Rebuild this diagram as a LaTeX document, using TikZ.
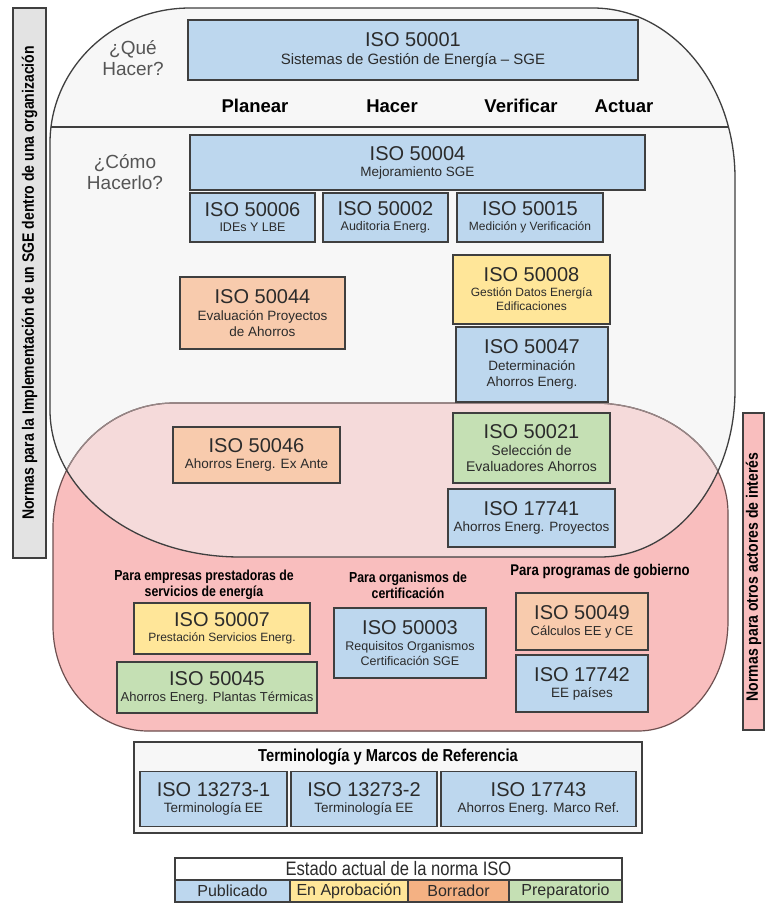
\documentclass[tikz,border=0pt]{standalone}
\usepackage{fontspec}
\setmainfont{Liberation Sans}
\newfontfamily\cond[FakeStretch=0.85]{Liberation Sans}
\definecolor{bluef}{HTML}{BDD7EE}
\definecolor{yelf}{HTML}{FFE699}
\definecolor{oraf}{HTML}{F8CBAD}
\definecolor{orad}{HTML}{F4B183}
\definecolor{grnf}{HTML}{C5E0B4}
\definecolor{bord}{HTML}{3F3F3F}
\definecolor{pinkf}{HTML}{F9BEBE}
\definecolor{pinkl}{HTML}{F5DADA}
\definecolor{whitef}{HTML}{F7F7F7}
\definecolor{grayf}{HTML}{E3E3E3}
\definecolor{txt}{HTML}{2B2B2B}
\newcommand\fs[2]{\fontsize{#1}{#2}\selectfont}
\newcommand\isonode[6]{\node[isob,#2,font=#5] (#1) at (#3) {{\fs{20}{22}#4}\\[1pt]#6};}
\newcommand\wpath{(190,8) -- (593,8) .. controls (671.4,8) and (735,84.1) .. (735,178) -- (735,390) .. controls (735,482.2) and (674.6,557) .. (600,557) -- (240,557) .. controls (135.1,557) and (50,491.2) .. (50,410) -- (50,143) .. controls (50,68.4) and (112.7,8) .. (190,8) -- cycle}
\newcommand\ppath{(174,403) -- (593,403) .. controls (667.6,403) and (728,452.2) .. (728,513) -- (728,621) .. controls (728,681.8) and (687.7,731) .. (638,731) -- (148,731) .. controls (95.5,731) and (53,684) .. (53,626) -- (53,528) .. controls (53,459) and (107,403) .. (174,403) -- cycle}
\tikzset{
  isob/.style={draw=bord, line width=1.4pt, align=center, inner sep=0pt, text=txt},
  headt/.style={align=center, inner sep=0pt, font=\cond\bfseries\fs{14.5}{16}, text=black},
  pdca/.style={inner sep=0pt, font=\bfseries\fs{18.5}{20}, text=black},
  qtext/.style={align=center, inner sep=0pt, font=\fs{19}{21}, text=txt!80},
  legc/.style={draw=bord, line width=1.2pt, inner sep=0pt, minimum height=22pt, font=\fs{16}{18}, text=txt}
}
\begin{document}
\begin{tikzpicture}[x=1pt,y=-1pt]
\useasboundingbox (0,0) rectangle (765,903);
\fill[white] (0,0) rectangle (765,903);
% big shapes
\fill[whitef] \wpath;
\fill[pinkf] \ppath;
\begin{scope}
  \clip \wpath;
  \fill[pinkl] \ppath;
\end{scope}
\draw[line width=1.2pt, draw={rgb,255:red,110;green,80;blue,80}] \ppath;
\begin{scope}
  \clip \wpath;
  \draw[line width=1.2pt, draw={rgb,255:red,150;green,135;blue,135}] \ppath;
  \draw[line width=1.3pt, draw=bord] (40,127) -- (745,127);
\end{scope}
\draw[line width=1.3pt, draw=bord] \wpath;
% side bars
\node[draw=bord, line width=1.3pt, fill=grayf, minimum width=33pt, minimum height=550pt, inner sep=0pt] (lbar) at (29.5,283) {};
\node[rotate=90, font=\cond\bfseries\fs{16.5}{18}, inner sep=0pt] (ltxt) at (lbar.center) {Normas para la Implementación de un SGE dentro de una organización};
\node[draw=bord, line width=1.3pt, fill=pinkf, minimum width=21pt, minimum height=317pt, inner sep=0pt] (rbar) at (753.5,571.5) {};
\node[rotate=90, font=\cond\bfseries\fs{16.5}{18}, inner sep=0pt] (rtxt) at (753.5,577) {Normas para otros actores de interés};
% labels
\node[qtext] (que) at (133,58) {¿Qué\\Hacer?};
\node[qtext] (como) at (125,172) {¿Cómo\\Hacerlo?};
\node[pdca] (plan) at (255,106) {Planear};
\node[pdca] (hacer) at (392,106) {Hacer};
\node[pdca] (verif) at (521,106) {Verificar};
\node[pdca] (actuar) at (624,106) {Actuar};
% boxes
\isonode{n50001}{fill=bluef,minimum width=450pt,minimum height=60pt}{413,50}{ISO 50001}{\fs{15}{17}}{Sistemas de Gestión de Energía – SGE}
\isonode{n50004}{fill=bluef,minimum width=455pt,minimum height=55pt}{417.5,162.5}{ISO 50004}{\fs{13.5}{15}}{Mejoramiento SGE}
\isonode{n50006}{fill=bluef,minimum width=125pt,minimum height=49pt}{252.5,217.5}{ISO 50006}{\fs{12.5}{14}}{IDEs Y LBE}
\isonode{n50002}{fill=bluef,minimum width=125pt,minimum height=49pt}{385.5,217.5}{ISO 50002}{\fs{12.5}{14}}{Auditoria Energ.}
\isonode{n50015}{fill=bluef,minimum width=146pt,minimum height=49pt}{530,217.5}{ISO 50015}{\fs{12}{14}}{Medición y Verificación}
\isonode{n50008}{fill=yelf,minimum width=157pt,minimum height=69pt}{531.5,289.5}{ISO 50008}{\fs{12}{14}}{Gestión Datos Energía\\Edificaciones}
\isonode{n50047}{fill=bluef,minimum width=152pt,minimum height=75pt}{532,364.5}{ISO 50047}{\fs{13.5}{16}}{Determinación\\Ahorros Energ.}
\isonode{n50044}{fill=oraf,minimum width=165pt,minimum height=72pt}{262.5,313}{ISO 50044}{\fs{13.5}{16}}{Evaluación Proyectos\\de Ahorros}
\isonode{n50046}{fill=oraf,minimum width=167pt,minimum height=56pt}{256.5,455}{ISO 50046}{\fs{13.5}{15}}{Ahorros Energ. Ex Ante}
\isonode{n50021}{fill=grnf,minimum width=157pt,minimum height=70pt}{531.5,448}{ISO 50021}{\fs{14}{16}}{Selección de\\Evaluadores Ahorros}
\isonode{n17741}{fill=bluef,minimum width=167pt,minimum height=58pt}{531.5,518}{ISO 17741}{\fs{13.5}{15}}{Ahorros Energ. Proyectos}
% bottom group headers
\node[headt] (h1) at (204,585) {Para empresas prestadoras de\\servicios de energía};
\node[headt] (h2) at (408,585) {Para organismos de\\certificación};
\node[headt, font=\cond\bfseries\fs{15.5}{17}] (h3) at (600,572) {Para programas de gobierno};
\isonode{n50007}{fill=yelf,minimum width=176pt,minimum height=51pt}{222,628.5}{ISO 50007}{\fs{12}{14}}{Prestación Servicios Energ.}
\isonode{n50045}{fill=grnf,minimum width=200pt,minimum height=51pt}{217,687.5}{ISO 50045}{\fs{13}{15}}{Ahorros Energ. Plantas Térmicas}
\isonode{n50003}{fill=bluef,minimum width=152pt,minimum height=70pt}{410,643}{ISO 50003}{\fs{12.5}{15}}{Requisitos Organismos\\Certificación SGE}
\isonode{n50049}{fill=oraf,minimum width=132pt,minimum height=57pt}{582,621.5}{ISO 50049}{\fs{13}{15}}{Cálculos EE y CE}
\isonode{n17742}{fill=bluef,minimum width=132pt,minimum height=57pt}{582,683.5}{ISO 17742}{\fs{13.5}{15}}{EE países}
% terminology
\node[draw=bord, line width=1.3pt, fill=whitef, minimum width=508pt, minimum height=91pt, inner sep=0pt] (term) at (388,787.5) {};
\node[headt, font=\cond\bfseries\fs{17.3}{19}] (termt) at (388,757) {Terminología y Marcos de Referencia};
\isonode{n13273a}{fill=bluef,minimum width=147pt,minimum height=55pt}{213.5,799}{ISO 13273-1}{\fs{13.5}{15}}{Terminología EE}
\isonode{n13273b}{fill=bluef,minimum width=146pt,minimum height=55pt}{364,799}{ISO 13273-2}{\fs{13.5}{15}}{Terminología EE}
\isonode{n17743}{fill=bluef,minimum width=195pt,minimum height=55pt}{538.5,799}{ISO 17743}{\fs{13.5}{15}}{Ahorros Energ. Marco Ref.}
% legend
\node[legc, fill=white, minimum width=447pt, font=\cond\fs{19.5}{21}] (legt) at (398.5,869) {Estado actual de la norma ISO};
\node[legc, fill=bluef, minimum width=115pt] (l1) at (232.5,891) {Publicado};
\node[legc, fill=yelf, minimum width=118pt] (l2) at (349,891) {En Aprobación};
\node[legc, fill=orad, minimum width=101pt] (l3) at (458.5,891) {Borrador};
\node[legc, fill=grnf, minimum width=113pt] (l4) at (565.5,891) {Preparatorio};
\end{tikzpicture}
\end{document}
